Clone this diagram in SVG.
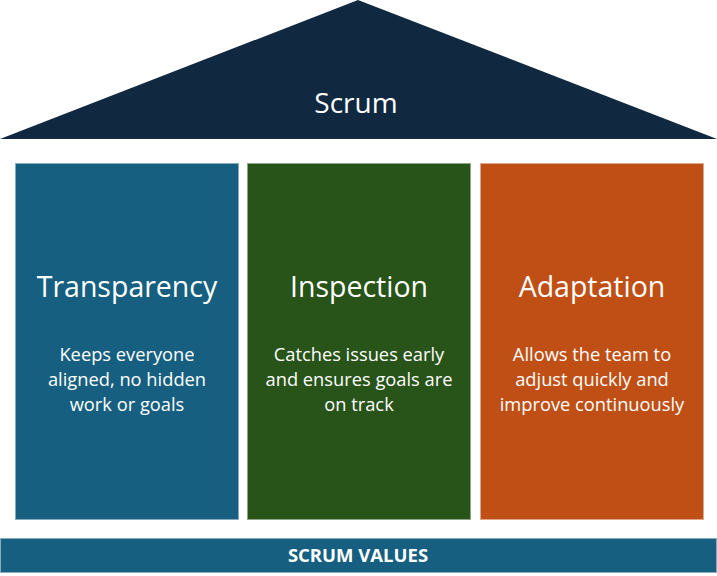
<svg xmlns="http://www.w3.org/2000/svg" width="717" height="576" viewBox="0 0 717 576">
<style>
.t{font-family:"Open Sans","Noto Sans","Liberation Sans",sans-serif;fill:#ffffff;text-anchor:middle}
.h{font-size:28.5px}
.d{font-size:18.3px}
.blue{fill:#175F80;stroke:#8AA9BD;stroke-width:1}
.green{fill:#285319;stroke:#8FA58A;stroke-width:1}
.orange{fill:#C04F15;stroke:#E0A88A;stroke-width:1}
</style>
<rect width="717" height="576" fill="#ffffff"/>
<g id="roof">
<polygon points="358,0 717,139 0,139" fill="#102941"/>
<text class="t" x="356" y="113" font-size="28">Scrum</text>
</g>
<g id="transparency">
<rect class="blue" x="15.5" y="163.5" width="223" height="356"/>
<text class="t h" x="127" y="297">Transparency</text>
<text class="t d" x="127" y="361">Keeps everyone</text>
<text class="t d" x="127" y="386">aligned, no hidden</text>
<text class="t d" x="127" y="411">work or goals</text>
</g>
<g id="inspection">
<rect class="green" x="247.5" y="163.5" width="223" height="356"/>
<text class="t h" x="359" y="297">Inspection</text>
<text class="t d" x="359" y="361">Catches issues early</text>
<text class="t d" x="359" y="386">and ensures goals are</text>
<text class="t d" x="359" y="411">on track</text>
</g>
<g id="adaptation">
<rect class="orange" x="480.5" y="163.5" width="223" height="356"/>
<text class="t h" x="592" y="297">Adaptation</text>
<text class="t d" x="592" y="361">Allows the team to</text>
<text class="t d" x="592" y="386">adjust quickly and</text>
<text class="t d" x="592" y="411">improve continuously</text>
</g>
<g id="values">
<rect x="0.5" y="538.5" width="716" height="34" fill="#175F80" stroke="#8AA9BD" stroke-width="1"/>
<text class="t" x="358" y="562" font-size="18.5" font-weight="bold">SCRUM VALUES</text>
</g>
<g id="connectors"></g>
</svg>
